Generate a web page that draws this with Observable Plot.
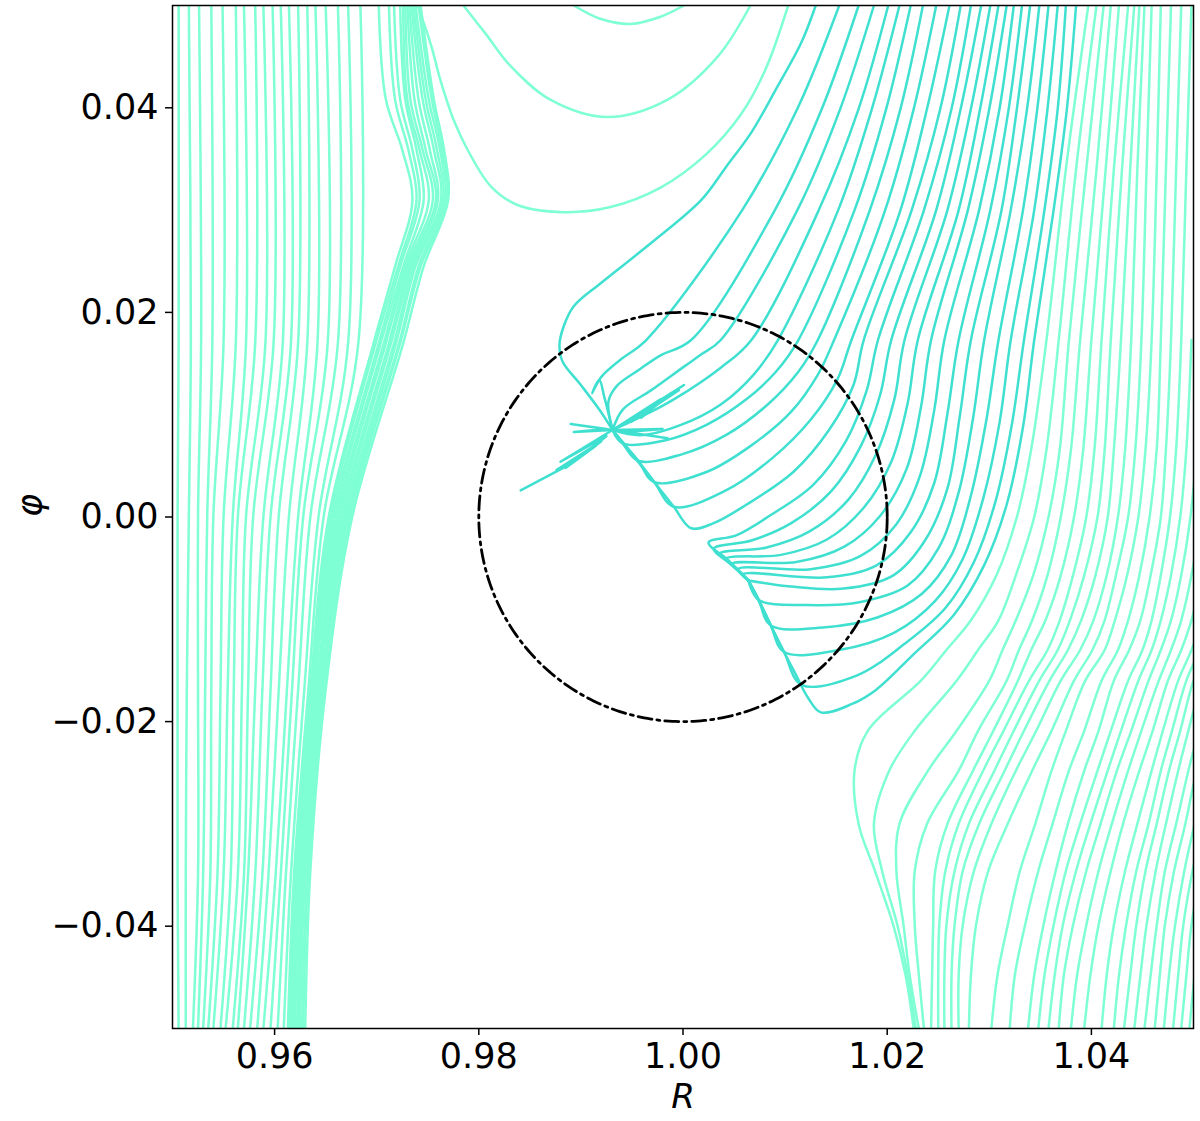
<!DOCTYPE html>
<html><head><meta charset="utf-8">
<script src="https://cdn.jsdelivr.net/npm/d3@7"></script>
<script src="https://cdn.jsdelivr.net/npm/@observablehq/plot@0.6"></script>
<style>body{margin:0;background:#fff} svg{display:block}</style>
</head><body><div id="chart"></div>
<script>
// ---------- axes ----------
const xDomain = [0.95, 1.05];
const yDomain = [-0.05, 0.05];
const xTicks = [0.96, 0.98, 1.00, 1.02, 1.04];
const yTicks = [-0.04, -0.02, 0.00, 0.02, 0.04];
const xLabel = "R";
const yLabel = "φ";
const aqua = "#7fffd4";
const turq = "#40e0d0";

// ---------- left family: thin streamlines (R at shared φ levels) ----------
const leftThinPhi = [0.05, 0.017, 0, -0.017, -0.035, -0.05];
const leftThinR = [
  [0.9506,0.9506,0.9505,0.9505,0.9505,0.9506],
  [0.9516,0.9518,0.9516,0.9514,0.9513,0.9513],
  [0.9526,0.9528,0.9525,0.9525,0.9525,0.9520],
  [0.9538,0.9539,0.9534,0.9532,0.9530,0.9525],
  [0.9549,0.9550,0.9540,0.9538,0.9537,0.9530],
  [0.9562,0.9562,0.9550,0.9547,0.9544,0.9535],
  [0.9570,0.9572,0.9559,0.9554,0.9550,0.9540],
  [0.9581,0.9581,0.9564,0.9560,0.9557,0.9547],
  [0.9589,0.9591,0.9572,0.9568,0.9564,0.9552],
  [0.9598,0.9599,0.9579,0.9574,0.9570,0.9559],
  [0.9606,0.9608,0.9589,0.9581,0.9574,0.9564],
  [0.9614,0.9616,0.9596,0.9588,0.9581,0.9570],
  [0.9623,0.9623,0.9604,0.9596,0.9588,0.9576],
  [0.9632,0.9632,0.9614,0.9604,0.9594,0.9583],
  [0.9640,0.9642,0.9623,0.9612,0.9601,0.9589],
  [0.9650,0.9652,0.9628,0.9617,0.9606,0.9596],
  [0.9662,0.9662,0.9635,0.9623,0.9611,0.9603],
  [0.9672,0.9672,0.9643,0.9629,0.9616,0.9609],
  [0.9684,0.9682,0.9648,0.9633,0.9619,0.9613]
];

// ---------- left family: dense bundle with bulge ----------
const bundlePhi = [0.05, 0.0408, 0.0359, 0.031, 0.0245, 0.017, 0, -0.0169, -0.0346, -0.05];
const bundleR = [
  [0.9702,0.9709,0.9725,0.9735,0.9718,0.9697,0.9653,0.9635,0.9621,0.9614],
  [0.9712,0.9718,0.9731,0.9739,0.9721,0.9699,0.9655,0.9636,0.9622,0.9615],
  [0.9717,0.9723,0.9735,0.9742,0.9723,0.9702,0.9657,0.9637,0.9623,0.9616],
  [0.9723,0.9728,0.9739,0.9746,0.9726,0.9704,0.9659,0.9638,0.9624,0.9618],
  [0.9726,0.9730,0.9742,0.9751,0.9728,0.9707,0.9661,0.9639,0.9625,0.9619],
  [0.9728,0.9733,0.9745,0.9755,0.9730,0.9709,0.9663,0.9641,0.9625,0.9620],
  [0.9730,0.9737,0.9748,0.9758,0.9732,0.9712,0.9665,0.9642,0.9627,0.9622],
  [0.9732,0.9741,0.9752,0.9760,0.9734,0.9714,0.9667,0.9643,0.9628,0.9623],
  [0.9734,0.9745,0.9756,0.9763,0.9736,0.9717,0.9669,0.9645,0.9629,0.9624],
  [0.9736,0.9748,0.9759,0.9765,0.9738,0.9719,0.9671,0.9646,0.9630,0.9625],
  [0.9738,0.9751,0.9762,0.9767,0.9741,0.9722,0.9672,0.9647,0.9632,0.9627],
  [0.9741,0.9754,0.9764,0.9769,0.9743,0.9723,0.9674,0.9649,0.9633,0.9628],
  [0.9743,0.9756,0.9766,0.9770,0.9746,0.9726,0.9676,0.9650,0.9635,0.9630]
];

// ---------- top U-shaped streamlines ----------
const topArcs = [
  [[0.9740,0.0500],[0.9753,0.0462],[0.9763,0.0425],[0.9775,0.0389],[0.9789,0.0359],[0.9812,0.0323],[0.9838,0.0305],[0.9883,0.0298],[0.9929,0.0303],[0.9978,0.0322],[1.0022,0.0354],[1.0057,0.0394],[1.0081,0.0438],[1.0103,0.0500]],
  [[0.9785,0.0500],[0.9807,0.0472],[0.9831,0.0441],[0.9870,0.0408],[0.9926,0.0391],[0.9985,0.0408],[1.0034,0.0450],[1.0066,0.0500]],
  [[0.9893,0.0500],[0.9919,0.0487],[0.9949,0.0482],[0.9978,0.0489],[1.0001,0.0500]]
];

// ---------- right family (circulating), R at shared φ levels ----------
const rightPhi = [0.05, 0.034, 0.0173, 0.0066, 0, -0.0057, -0.0101, -0.0130, -0.0160, -0.0209, -0.0248, -0.0300, -0.0346, -0.0399, -0.0448, -0.05];
const rightR = [
  [1.0397,1.0375,1.0356,1.0341,1.0327,1.0307,1.0282,1.0258,1.0233,1.0181,1.0168,1.0172,1.0188,1.0206,1.0218,1.0226],
  [1.0405,1.0385,1.0368,1.0356,1.0344,1.0326,1.0309,1.0289,1.0268,1.0227,1.0202,1.0187,1.0195,1.0210,1.0220,1.0228],
  [1.0412,1.0395,1.0378,1.0369,1.0358,1.0343,1.0326,1.0313,1.0300,1.0268,1.0240,1.0212,1.0209,1.0216,1.0222,1.0231],
  [1.0419,1.0405,1.0389,1.0380,1.0370,1.0357,1.0342,1.0329,1.0317,1.0289,1.0270,1.0239,1.0227,1.0227,1.0231,1.0236],
  [1.0427,1.0414,1.0400,1.0392,1.0383,1.0370,1.0355,1.0341,1.0328,1.0304,1.0284,1.0259,1.0247,1.0245,1.0244,1.0243],
  [1.0436,1.0422,1.0410,1.0403,1.0395,1.0382,1.0369,1.0357,1.0339,1.0314,1.0294,1.0270,1.0257,1.0251,1.0250,1.0250],
  [1.0442,1.0430,1.0419,1.0413,1.0406,1.0393,1.0379,1.0367,1.0349,1.0324,1.0305,1.0280,1.0266,1.0258,1.0256,1.0256],
  [1.0447,1.0438,1.0429,1.0422,1.0416,1.0404,1.0390,1.0377,1.0359,1.0334,1.0315,1.0290,1.0274,1.0266,1.0263,1.0263],
  [1.0452,1.0445,1.0439,1.0433,1.0426,1.0415,1.0402,1.0389,1.0370,1.0346,1.0326,1.0302,1.0285,1.0274,1.0270,1.0270],
  [1.0459,1.0454,1.0449,1.0443,1.0436,1.0424,1.0413,1.0401,1.0383,1.0361,1.0342,1.0318,1.0299,1.0287,1.0282,1.0280],
  [1.0468,1.0464,1.0459,1.0453,1.0446,1.0435,1.0423,1.0413,1.0394,1.0375,1.0361,1.0345,1.0330,1.0318,1.0308,1.0302],
  [1.0478,1.0473,1.0468,1.0464,1.0457,1.0447,1.0436,1.0426,1.0410,1.0393,1.0378,1.0362,1.0348,1.0335,1.0325,1.0320],
  [1.0488,1.0483,1.0478,1.0473,1.0468,1.0458,1.0448,1.0437,1.0422,1.0407,1.0393,1.0377,1.0365,1.0353,1.0344,1.0338],
  [1.0498,1.0493,1.0488,1.0483,1.0477,1.0468,1.0459,1.0450,1.0436,1.0419,1.0406,1.0389,1.0375,1.0363,1.0354,1.0348]
];
const rightLowPhi = [0.0173, 0.0066, 0, -0.0057, -0.0101, -0.0130, -0.0160, -0.0209, -0.0248, -0.0300, -0.0346, -0.0399, -0.0448, -0.05];
const rightLowR = [
  [1.0498,1.0493,1.0487,1.0478,1.0468,1.0459,1.0446,1.0429,1.0416,1.0399,1.0385,1.0372,1.0364,1.0358],
  [1.0508,1.0503,1.0497,1.0488,1.0478,1.0468,1.0456,1.0439,1.0425,1.0409,1.0395,1.0382,1.0373,1.0368],
  [1.0517,1.0513,1.0507,1.0498,1.0488,1.0478,1.0466,1.0449,1.0436,1.0420,1.0407,1.0395,1.0386,1.0380],
  [1.0527,1.0522,1.0517,1.0508,1.0498,1.0488,1.0475,1.0460,1.0447,1.0431,1.0419,1.0407,1.0399,1.0393],
  [1.0537,1.0532,1.0526,1.0517,1.0508,1.0498,1.0485,1.0470,1.0459,1.0445,1.0433,1.0422,1.0415,1.0410],
  [1.0545,1.0540,1.0534,1.0525,1.0516,1.0506,1.0493,1.0479,1.0468,1.0456,1.0444,1.0434,1.0427,1.0422],
  [1.0552,1.0547,1.0541,1.0532,1.0522,1.0513,1.0500,1.0487,1.0476,1.0464,1.0453,1.0444,1.0438,1.0432],
  [1.0559,1.0554,1.0548,1.0539,1.0529,1.0519,1.0508,1.0495,1.0485,1.0473,1.0463,1.0454,1.0448,1.0442],
  [1.0566,1.0562,1.0556,1.0547,1.0537,1.0527,1.0517,1.0505,1.0495,1.0483,1.0472,1.0464,1.0458,1.0452],
  [1.0574,1.0570,1.0564,1.0555,1.0545,1.0535,1.0525,1.0514,1.0503,1.0492,1.0481,1.0472,1.0467,1.0462],
  [1.0582,1.0577,1.0572,1.0563,1.0553,1.0543,1.0533,1.0521,1.0512,1.0501,1.0491,1.0482,1.0476,1.0471],
  [1.0590,1.0585,1.0579,1.0571,1.0561,1.0551,1.0541,1.0529,1.0519,1.0509,1.0499,1.0490,1.0485,1.0480],
  [1.0598,1.0593,1.0587,1.0578,1.0569,1.0559,1.0549,1.0537,1.0527,1.0517,1.0507,1.0498,1.0493,1.0488],
  [1.0606,1.0601,1.0595,1.0586,1.0576,1.0567,1.0557,1.0545,1.0535,1.0524,1.0515,1.0506,1.0501,1.0496]
];

// ---------- streamlines that end near the planet (turquoise) ----------
const innerLines = [
  [[1.0130,0.0500],[1.0116,0.0464],[1.0091,0.0418],[1.0067,0.0376],[1.0042,0.0342],[1.0018,0.0310],[0.9969,0.0268],[0.9920,0.0229],[0.9893,0.0206],[0.9883,0.0186],[0.9879,0.0168],[0.9882,0.0152],[0.9900,0.0129],[0.9918,0.0105],[0.9931,0.0085]],
  [[1.0153,0.0500],[1.0112,0.0399],[1.0058,0.0300],[0.9964,0.0173],[0.9939,0.0154],[0.9920,0.0137],[0.9911,0.0121],[0.9918,0.0134],[0.9923,0.0117],[0.9931,0.0085]],
  [[1.0172,0.0500],[1.0136,0.0399],[1.0090,0.0300],[1.0008,0.0173],[0.9978,0.0158],[0.9957,0.0144],[0.9935,0.0128],[0.9927,0.0113],[0.9931,0.0085]],
  [[1.0187,0.0500],[1.0154,0.0399],[1.0112,0.0300],[1.0037,0.0173],[1.0018,0.0159],[1.0001,0.0147],[0.9969,0.0124],[0.9941,0.0105],[0.9931,0.0085]],
  [[1.0201,0.0500],[1.0172,0.0399],[1.0133,0.0300],[1.0067,0.0173],[1.0037,0.0146],[0.9991,0.0115],[0.9959,0.0098],[0.9931,0.0085]],
  [[1.0212,0.0500],[1.0185,0.0399],[1.0152,0.0300],[1.0093,0.0173],[1.0069,0.0139],[1.0037,0.0110],[0.9998,0.0090],[0.9959,0.0080],[0.9931,0.0085]],
  [[1.0223,0.0500],[1.0199,0.0399],[1.0168,0.0300],[1.0113,0.0173],[1.0091,0.0142],[1.0062,0.0115],[1.0023,0.0090],[0.9983,0.0075],[0.9941,0.0072],[0.9931,0.0085]],
  [[1.0235,0.0500],[1.0213,0.0399],[1.0183,0.0300],[1.0132,0.0173],[1.0113,0.0142],[1.0083,0.0110],[1.0042,0.0080],[0.9998,0.0061],[0.9956,0.0055],[0.9941,0.0072],[0.9931,0.0085]],
  [[1.0248,0.0500],[1.0226,0.0399],[1.0198,0.0300],[1.0148,0.0173],[1.0132,0.0139],[1.0106,0.0103],[1.0067,0.0070],[1.0023,0.0044],[0.9972,0.0034],[0.9956,0.0055],[0.9941,0.0072],[0.9931,0.0085]],
  [[1.0261,0.0500],[1.0239,0.0399],[1.0213,0.0300],[1.0165,0.0173],[1.0151,0.0134],[1.0125,0.0095],[1.0088,0.0058],[1.0042,0.0026],[0.9991,0.0010],[0.9972,0.0034],[0.9956,0.0055],[0.9931,0.0085]],
  [[1.0272,0.0500],[1.0252,0.0399],[1.0224,0.0300],[1.0177,0.0173],[1.0167,0.0129],[1.0143,0.0085],[1.0108,0.0044],[1.0062,0.0012],[1.0030,-0.0006],[1.0008,-0.0011],[0.9991,0.0010],[0.9972,0.0034],[0.9931,0.0085]],
  [[1.0282,0.0500],[1.0263,0.0399],[1.0236,0.0300],[1.0191,0.0173],[1.0180,0.0124],[1.0160,0.0075],[1.0127,0.0031],[1.0086,0.0002],[1.0052,-0.0018],[1.0025,-0.0025],[1.0044,-0.0042],[1.0064,-0.0062]],
  [[1.0292,0.0500],[1.0272,0.0399],[1.0248,0.0300],[1.0204,0.0173],[1.0193,0.0119],[1.0174,0.0069],[1.0145,0.0025],[1.0106,-0.0006],[1.0067,-0.0023],[1.0030,-0.0031],[1.0047,-0.0046],[1.0064,-0.0062]],
  [[1.0301,0.0500],[1.0282,0.0399],[1.0259,0.0300],[1.0217,0.0173],[1.0207,0.0115],[1.0189,0.0061],[1.0162,0.0017],[1.0124,-0.0014],[1.0081,-0.0030],[1.0036,-0.0036],[1.0051,-0.0049],[1.0064,-0.0062]],
  [[1.0309,0.0500],[1.0291,0.0399],[1.0270,0.0300],[1.0230,0.0173],[1.0220,0.0111],[1.0204,0.0054],[1.0177,0.0009],[1.0141,-0.0022],[1.0096,-0.0037],[1.0042,-0.0041],[1.0054,-0.0052],[1.0064,-0.0062]],
  [[1.0317,0.0500],[1.0300,0.0399],[1.0279,0.0300],[1.0243,0.0173],[1.0233,0.0107],[1.0219,0.0047],[1.0193,0.0001],[1.0158,-0.0029],[1.0111,-0.0044],[1.0048,-0.0046],[1.0057,-0.0055],[1.0064,-0.0062]],
  [[1.0324,0.0500],[1.0310,0.0399],[1.0290,0.0300],[1.0256,0.0173],[1.0246,0.0104],[1.0232,0.0040],[1.0209,-0.0007],[1.0174,-0.0038],[1.0125,-0.0051],[1.0054,-0.0051],[1.0064,-0.0062]],
  [[1.0332,0.0500],[1.0319,0.0399],[1.0301,0.0300],[1.0270,0.0173],[1.0259,0.0101],[1.0246,0.0033],[1.0223,-0.0015],[1.0190,-0.0047],[1.0141,-0.0059],[1.0059,-0.0056],[1.0064,-0.0062]],
  [[1.0340,0.0500],[1.0327,0.0399],[1.0312,0.0300],[1.0282,0.0173],[1.0271,0.0098],[1.0259,0.0028],[1.0237,-0.0023],[1.0206,-0.0057],[1.0157,-0.0070],[1.0106,-0.0068],[1.0064,-0.0062]],
  [[1.0349,0.0500],[1.0337,0.0399],[1.0321,0.0300],[1.0295,0.0173],[1.0284,0.0096],[1.0270,0.0024],[1.0250,-0.0031],[1.0220,-0.0067],[1.0174,-0.0083],[1.0121,-0.0086],[1.0074,-0.0081],[1.0064,-0.0062]],
  [[1.0358,0.0500],[1.0347,0.0399],[1.0333,0.0300],[1.0309,0.0173],[1.0297,0.0094],[1.0282,0.0021],[1.0263,-0.0037],[1.0234,-0.0075],[1.0191,-0.0098],[1.0137,-0.0108],[1.0086,-0.0106],[1.0074,-0.0081],[1.0064,-0.0062]],
  [[1.0367,0.0500],[1.0357,0.0399],[1.0344,0.0300],[1.0321,0.0173],[1.0310,0.0092],[1.0294,0.0018],[1.0274,-0.0041],[1.0247,-0.0082],[1.0207,-0.0113],[1.0153,-0.0130],[1.0099,-0.0132],[1.0086,-0.0106],[1.0074,-0.0081],[1.0064,-0.0062]],
  [[1.0375,0.0500],[1.0367,0.0399],[1.0354,0.0300],[1.0334,0.0173],[1.0322,0.0090],[1.0306,0.0015],[1.0285,-0.0044],[1.0257,-0.0089],[1.0217,-0.0124],[1.0170,-0.0155],[1.0116,-0.0164],[1.0099,-0.0132],[1.0086,-0.0106],[1.0074,-0.0081],[1.0064,-0.0062]],
  [[1.0385,0.0500],[1.0376,0.0399],[1.0363,0.0300],[1.0344,0.0173],[1.0333,0.0088],[1.0317,0.0012],[1.0295,-0.0047],[1.0265,-0.0096],[1.0225,-0.0135],[1.0189,-0.0169],[1.0165,-0.0183],[1.0135,-0.0191],[1.0122,-0.0176],[1.0111,-0.0155],[1.0099,-0.0132],[1.0086,-0.0106],[1.0074,-0.0081],[1.0064,-0.0062]]
];

// ---------- numerical spikes at the sink ----------
const spikes = [
  [[0.9931,0.0085],[0.9880,0.0054],[0.9925,0.0079],[0.9885,0.0048],[0.9920,0.0074],[0.9876,0.0046],[0.9915,0.0070],[0.9892,0.0053],[0.9841,0.0026]],
  [[0.9931,0.0085],[1.0001,0.0129],[0.9944,0.0091],[0.9996,0.0124],[0.9949,0.0093],[0.9988,0.0121],[0.9959,0.0097],[0.9978,0.0115],[0.9931,0.0085]],
  [[0.9931,0.0085],[0.9890,0.0091],[0.9925,0.0086],[0.9893,0.0083],[0.9931,0.0085]],
  [[0.9931,0.0085],[0.9980,0.0086],[0.9944,0.0083],[0.9985,0.0077],[0.9931,0.0085]]
];

// ---------- Hill-sphere circle ----------
const circleCenter = [1.0, 0.0];
const circleRadius = 0.02;

// ---------- build tables ----------
const rows = [], spikeRows = [];
let uid = 0;
function addTable(phis, table, color) {
  for (const r of table) { const k = uid++; r.forEach((R, j) => rows.push({id: k, R, phi: phis[j], color})); }
}
function addPaths(paths, color, out) {
  for (const p of paths) { const k = uid++; p.forEach(([R, phi]) => out.push({id: k, R, phi, color})); }
}
addTable(leftThinPhi, leftThinR, aqua);
addTable(bundlePhi, bundleR, aqua);
addPaths(topArcs, aqua, rows);
addTable(rightPhi, rightR, aqua);
addTable(rightLowPhi, rightLowR, aqua);
addPaths(innerLines, turq, rows);
addPaths(spikes, turq, spikeRows);

const circle = d3.range(0, 361, 1).map(a => ({
  R: circleCenter[0] + circleRadius * Math.cos(a * Math.PI / 180),
  phi: circleCenter[1] + circleRadius * Math.sin(a * Math.PI / 180)
}));

const fmt = d => (d < 0 ? "\u2212" : "") + Math.abs(d).toFixed(2);

const chart = Plot.plot({
  width: 1200, height: 1121,
  marginLeft: 172, marginRight: 7, marginTop: 5, marginBottom: 93,
  x: {domain: xDomain, label: null},
  y: {domain: yDomain, label: null},
  color: {type: "identity"},
  style: {fontFamily: "DejaVu Sans", background: "white", color: "black"},
  marks: [
    Plot.line(rows, {x: "R", y: "phi", z: "id", stroke: "color", strokeWidth: 2.5, curve: "catmull-rom", clip: true}),
    Plot.line(spikeRows, {x: "R", y: "phi", z: "id", stroke: "color", strokeWidth: 2.5, curve: "linear", clip: true}),
    Plot.line(circle, {x: "R", y: "phi", stroke: "black", strokeWidth: 2.8, strokeDasharray: "14,5,3,5"}),
    Plot.frame({stroke: "black", strokeWidth: 1.5}),
    Plot.axisX(xTicks, {tickSize: 7, tickPadding: 8, fontSize: 35, tickFormat: fmt, strokeWidth: 1.5, label: null}),
    Plot.axisY(yTicks, {tickSize: 7, tickPadding: 7, fontSize: 35, tickFormat: fmt, strokeWidth: 1.5, label: null}),
    Plot.text([xLabel], {frameAnchor: "bottom", dy: 69, text: d => d, fontSize: 34, fontStyle: "italic", lineAnchor: "middle"}),
    Plot.text([yLabel], {frameAnchor: "left", dx: -142, text: d => d, fontSize: 35, fontStyle: "italic", rotate: -90, lineAnchor: "middle"})
  ]
});
document.getElementById("chart").appendChild(chart);
</script>
</body></html>
